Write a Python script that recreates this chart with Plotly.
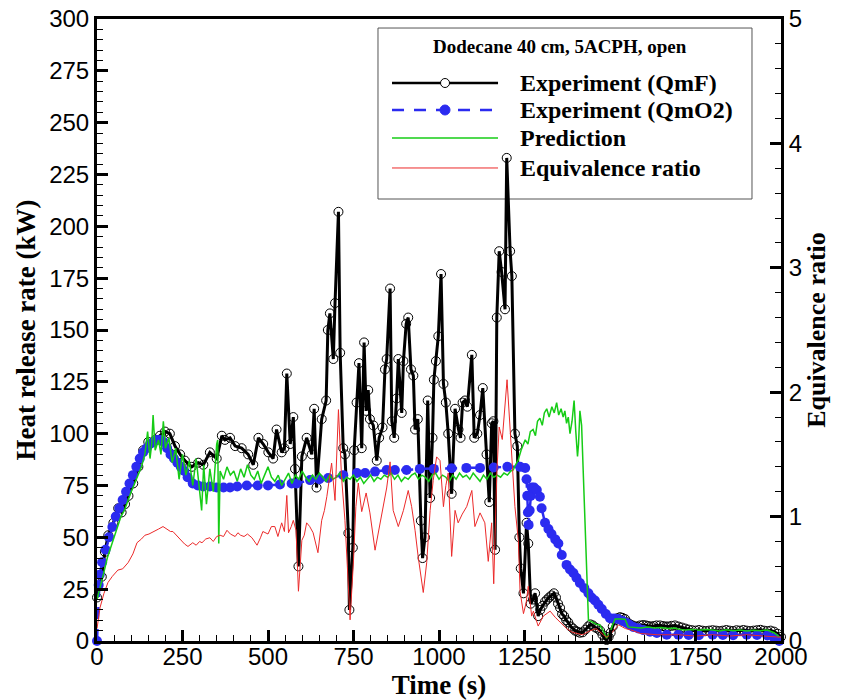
import plotly.graph_objects as go

# ---------------- data ----------------
qmf_points = [
    (0, 21), (14, 31), (23, 43), (33, 51), (48, 57), (62, 64), (72, 62), (82, 66), (92, 70),
    (106, 76), (121, 84), (135, 92), (150, 96), (170, 97), (184, 99), (199, 101), (213, 100),
    (228, 94), (243, 90), (257, 87), (277, 84), (296, 86), (311, 85), (330, 91), (350, 88),
    (365, 99), (374, 97), (389, 98), (404, 94), (423, 93), (442, 90), (457, 85), (472, 98),
    (486, 95), (501, 91), (515, 88), (525, 102), (540, 91), (548, 93), (555, 129), (565, 95),
    (574, 108), (579, 83), (589, 36), (599, 89), (613, 98), (628, 90), (635, 112), (642, 74),
    (657, 107), (670, 116), (675, 150), (681, 158), (691, 136), (696, 163), (706, 207),
    (711, 139), (720, 93), (725, 90), (735, 52), (738, 15), (748, 45), (752, 92), (759, 115),
    (766, 134), (774, 93), (781, 144), (787, 111), (793, 121), (798, 107), (808, 104),
    (818, 87), (825, 98), (835, 103), (842, 131), (847, 136), (857, 170), (862, 106),
    (869, 98), (876, 117), (881, 136), (891, 110), (896, 135), (904, 153), (910, 156),
    (918, 131), (925, 128), (930, 102), (938, 107), (947, 58), (952, 40), (959, 50),
    (967, 116), (974, 69), (981, 98), (985, 126), (991, 135), (998, 147), (1006, 177),
    (1013, 124), (1020, 115), (1027, 100), (1037, 71), (1047, 112), (1057, 102), (1063, 98),
    (1069, 115), (1076, 116), (1083, 113), (1096, 138), (1103, 98), (1112, 100), (1120, 109),
    (1128, 122), (1139, 90), (1147, 67), (1154, 105), (1159, 106), (1164, 44), (1169, 156),
    (1176, 188), (1183, 178), (1193, 160), (1198, 233), (1208, 188), (1213, 176), (1222, 100),
    (1229, 94), (1235, 50), (1239, 35), (1247, 23), (1256, 57), (1261, 47), (1268, 18),
    (1275, 20), (1281, 23), (1290, 12), (1296, 15), (1303, 17), (1310, 19), (1316, 20),
    (1322, 21), (1329, 22), (1336, 23), (1342, 21), (1348, 18), (1354, 16), (1360, 13),
    (1366, 12), (1372, 10), (1378, 9), (1385, 7), (1392, 6), (1398, 5), (1405, 4.5),
    (1412, 4), (1420, 4.2), (1428, 5.5), (1436, 7), (1443, 8), (1450, 7.5), (1457, 6.5),
    (1464, 6), (1471, 5), (1478, 3), (1485, 1), (1490, 0.5), (1496, 2), (1502, 4), (1508, 7),
    (1515, 10), (1522, 11), (1529, 11.5), (1536, 11.2), (1544, 10.6), (1551, 9), (1559, 8),
    (1566, 7.5), (1573, 7), (1580, 7), (1588, 7.5), (1597, 7.7), (1605, 7.5), (1612, 7.2),
    (1620, 7), (1628, 7.2), (1636, 7.5), (1646, 7.5), (1655, 7.2), (1663, 7), (1670, 7),
    (1680, 7.3), (1690, 7.5), (1700, 7), (1710, 6.5), (1720, 6), (1730, 5.5), (1740, 5.2),
    (1750, 5), (1760, 5.3), (1770, 5), (1780, 4.8), (1790, 5), (1800, 5.2), (1810, 5),
    (1820, 4.8), (1830, 5), (1840, 5.3), (1850, 5), (1860, 4.8), (1870, 5.2), (1880, 5),
    (1890, 5.3), (1900, 5), (1910, 4.8), (1920, 5), (1930, 5.2), (1940, 5.4), (1950, 5),
    (1960, 4.8), (1970, 5), (1980, 4.5), (1990, 3.5), (2000, 2),
]

qmo2_points = [
    (0, 0), (5, 27), (8, 32), (15, 38), (25, 44), (35, 50), (45, 55), (55, 60), (65, 64),
    (75, 68), (85, 72), (95, 76), (105, 80), (115, 84), (125, 88), (135, 91), (145, 93),
    (155, 95), (165, 96), (175, 97), (185, 97), (195, 96), (205, 93), (215, 90), (225, 88),
    (235, 86), (245, 84), (255, 82), (265, 79), (280, 76), (295, 75), (310, 74.5), (330, 74.5),
    (350, 74), (370, 74), (389, 74), (410, 74.5), (438, 75), (470, 75), (500, 75),
    (535, 75.5), (569, 76), (584, 76), (623, 77.6), (650, 78), (676, 78.6), (720, 80),
    (760, 81), (784, 81), (813, 81.7), (847, 82.5), (871, 82.5), (905, 82.5), (944, 83),
    (985, 83), (1037, 83.3), (1080, 83.5), (1120, 83.5), (1160, 83.7), (1200, 84),
    (1237, 84), (1252, 83.4), (1256, 78), (1258, 70), (1260, 62), (1262, 56), (1265, 63),
    (1268, 70), (1271, 74), (1278, 74), (1286, 72.8), (1295, 69.6), (1300, 64), (1310, 57),
    (1320, 54), (1329, 51.6), (1340, 49), (1349, 47), (1359, 41.5), (1373, 36.7),
    (1383, 34.5), (1393, 32.8), (1402, 30.5), (1412, 28), (1425, 25.5), (1437, 23),
    (1446, 21), (1456, 19.5), (1466, 17.5), (1476, 15.4), (1488, 13), (1500, 11),
    (1512, 10.8), (1524, 10.6), (1537, 9.6), (1549, 8.7), (1558, 7.7), (1568, 6.8),
    (1583, 6), (1597, 5.3), (1617, 4.5), (1637, 3.9), (1666, 3), (1700, 3), (1730, 2.9),
    (1760, 2.8), (1800, 3), (1830, 2.9), (1860, 2.8), (1900, 3), (1930, 2.9), (1960, 2.7),
    (1980, 1.5), (1995, 0),
]

prediction_points = [
    (0, 20), (10, 26), (20, 33), (30, 40), (40, 45), (50, 50), (60, 55), (70, 60), (80, 63),
    (90, 68), (100, 72), (110, 76), (120, 80), (130, 84), (140, 90), (148, 101), (155, 88),
    (160, 95), (164, 109), (170, 92), (180, 97), (187, 90), (194, 106), (200, 93), (210, 98),
    (220, 86), (230, 93), (240, 78), (250, 90), (260, 80), (270, 87), (280, 75), (290, 88),
    (300, 70), (306, 63), (312, 85), (320, 66), (330, 83), (340, 72), (350, 95), (353, 97),
    (356, 47), (360, 82), (370, 78), (380, 84), (390, 80), (400, 82), (410, 77), (420, 83),
    (430, 79), (440, 85), (450, 80), (460, 78), (470, 82), (480, 76), (490, 80), (500, 84),
    (510, 79), (520, 77), (530, 80), (540, 75), (550, 78), (560, 81), (570, 76), (580, 80),
    (590, 78), (600, 82), (610, 79), (620, 77), (630, 80), (640, 78), (650, 81), (660, 79),
    (670, 77), (680, 80), (690, 78), (700, 79), (710, 81), (720, 77), (730, 79), (740, 78),
    (750, 80), (760, 77), (770, 79), (780, 76), (790, 78), (800, 80), (810, 77), (820, 79),
    (830, 78), (840, 80), (850, 79), (860, 81), (870, 78), (880, 80), (890, 77), (900, 79),
    (910, 78), (920, 80), (930, 81), (940, 78), (950, 80), (960, 79), (970, 77), (980, 80),
    (990, 81), (1000, 78), (1010, 80), (1020, 79), (1030, 77), (1040, 80), (1050, 78),
    (1060, 81), (1070, 79), (1080, 80), (1090, 78), (1100, 81), (1110, 79), (1120, 77),
    (1130, 80), (1140, 78), (1150, 81), (1160, 79), (1170, 80), (1180, 79), (1190, 81),
    (1200, 80), (1210, 82), (1217, 82.5), (1224, 85), (1231, 87), (1240, 92), (1252, 97),
    (1260, 95), (1267, 101), (1275, 102), (1282, 99), (1288, 106), (1295, 107.5), (1302, 104),
    (1308, 110), (1315, 112), (1322, 108), (1330, 113), (1337, 110), (1344, 115), (1350, 109),
    (1357, 112), (1363, 108), (1368, 111), (1373, 105), (1378, 108), (1383, 100), (1389, 106),
    (1395, 116), (1400, 101), (1405, 89), (1408, 95), (1412, 111), (1417, 104), (1437, 10),
    (1450, 9), (1460, 8), (1470, 7.7), (1480, 5), (1490, 1.4), (1500, 4), (1508, 8),
    (1515, 10.6), (1530, 10.6), (1544, 10.5), (1553, 6.8), (1570, 6.5), (1590, 6.3),
    (1610, 6.8), (1630, 6.3), (1650, 6.5), (1670, 6), (1690, 6.3), (1705, 5.5), (1720, 5.3),
    (1740, 5.6), (1760, 5.2), (1780, 5.5), (1800, 5.3), (1820, 4.8), (1840, 5.4),
    (1860, 5), (1880, 5.3), (1900, 4.8), (1920, 5.2), (1940, 5), (1960, 5.3), (1980, 4),
    (1995, 2),
]

phi_points = [
    (0, 0.10), (9, 0.27), (20, 0.38), (32, 0.47), (45, 0.52), (61, 0.57), (75, 0.58),
    (91, 0.63), (105, 0.70), (117, 0.79), (130, 0.82), (140, 0.85), (152, 0.86), (164, 0.88),
    (180, 0.90), (193, 0.92), (205, 0.90), (215, 0.88), (222, 0.88), (235, 0.84), (249, 0.80),
    (256, 0.78), (266, 0.76), (280, 0.79), (290, 0.77), (300, 0.80), (307, 0.79), (318, 0.82),
    (330, 0.83), (340, 0.80), (350, 0.84), (360, 0.85), (370, 0.84), (380, 0.89), (390, 0.86),
    (404, 0.84), (412, 0.87), (420, 0.85), (430, 0.84), (440, 0.86), (453, 0.83), (460, 0.80),
    (468, 0.77), (478, 0.83), (485, 0.88), (500, 0.86), (510, 0.92), (520, 0.92), (529, 0.84),
    (540, 0.95), (548, 0.88), (555, 1.17), (560, 0.87), (568, 0.92), (574, 0.97), (582, 0.89),
    (589, 0.40), (599, 0.81), (606, 0.85), (613, 0.95), (622, 0.92), (632, 0.87), (646, 0.71),
    (657, 0.97), (665, 1.05), (672, 1.16), (686, 1.43), (696, 1.13), (706, 1.86), (715, 1.32),
    (725, 0.97), (732, 0.60), (740, 0.17), (750, 0.65), (757, 1.08), (764, 1.27), (774, 1.04),
    (787, 1.19), (798, 1.03), (813, 0.73), (827, 0.93), (847, 1.23), (857, 1.44), (866, 1.05),
    (881, 0.92), (896, 1.05), (910, 1.21), (920, 1.08), (930, 0.89), (939, 0.68), (954, 0.39),
    (964, 0.63), (974, 1.05), (983, 1.29), (993, 1.48), (1003, 1.45), (1013, 1.08),
    (1020, 1.25), (1027, 1.35), (1037, 0.68), (1047, 1.05), (1056, 0.95), (1068, 1.02),
    (1081, 1.08), (1096, 1.21), (1105, 0.92), (1120, 1.03), (1134, 0.95), (1144, 0.64),
    (1154, 0.95), (1160, 0.46), (1169, 1.35), (1176, 1.72), (1185, 1.62), (1199, 2.10),
    (1213, 1.48), (1222, 1.08), (1232, 0.81), (1237, 0.40), (1247, 0.22), (1255, 0.31),
    (1261, 0.44), (1271, 0.20), (1276, 0.24), (1290, 0.12), (1305, 0.20), (1325, 0.24),
    (1340, 0.19), (1354, 0.15), (1373, 0.10), (1390, 0.07), (1403, 0.06), (1420, 0.05),
    (1440, 0.08), (1460, 0.10), (1480, 0.05), (1490, 0.03), (1500, 0.05), (1515, 0.10),
    (1525, 0.13), (1545, 0.10), (1560, 0.09), (1590, 0.06), (1640, 0.05), (1700, 0.05),
    (1750, 0.04), (1800, 0.05), (1850, 0.04), (1900, 0.05), (1950, 0.04), (2000, 0.03),
]

legend_title = "Dodecane 40 cm, 5ACPH, open"
series_names = ["Experiment (QmF)", "Experiment (QmO2)", "Prediction", "Equivalence ratio"]
x_ticks = list(range(0, 2001, 250))
y_ticks = list(range(0, 301, 25))
y2_ticks = [0, 1, 2, 3, 4, 5]

# ---------------- styling ----------------
BLACK = "#000000"
BLUE = "#2b2bf0"
GREEN = "#16cc16"
RED = "#ec2a2a"
SERIF = "Liberation Serif, Times New Roman, serif"
SANS = "Liberation Sans, Arial, sans-serif"


def unzip(points):
    return [p[0] for p in points], [p[1] for p in points]


fig = go.Figure()

t, v = unzip(qmf_points)
fig.add_trace(go.Scatter(x=t, y=v, mode="lines+markers", name=series_names[0],
                         line=dict(color=BLACK, width=3),
                         marker=dict(symbol="circle-open", size=9, color=BLACK,
                                     line=dict(width=1, color=BLACK)),
                         cliponaxis=False, showlegend=False))
t, v = unzip(qmo2_points)
fig.add_trace(go.Scatter(x=t, y=v, mode="lines+markers", name=series_names[1],
                         line=dict(color=BLUE, width=2.5, dash="12px,10px"),
                         marker=dict(symbol="circle", size=10, color=BLUE),
                         cliponaxis=False, showlegend=False))
t, v = unzip(prediction_points)
fig.add_trace(go.Scatter(x=t, y=v, mode="lines", name=series_names[2],
                         line=dict(color=GREEN, width=1.5), showlegend=False))
t, v = unzip(phi_points)
fig.add_trace(go.Scatter(x=t, y=v, mode="lines", name=series_names[3], yaxis="y2",
                         line=dict(color=RED, width=1), showlegend=False))

# ---------------- manual legend box (paper coordinates) ----------------
shapes = [dict(type="rect", xref="paper", yref="paper", x0=0.4108, x1=0.9576,
               y0=0.7106, y1=0.9855, line=dict(color="#555555", width=1),
               fillcolor="white", layer="below")]
row_y = [0.8971, 0.8537, 0.8087, 0.7605]
line_styles = [dict(color=BLACK, width=2.5), dict(color=BLUE, width=2.5, dash="12px,10px"),
               dict(color=GREEN, width=1.5), dict(color=RED, width=1)]
for yy, ls in zip(row_y, line_styles):
    shapes.append(dict(type="line", xref="paper", yref="paper", x0=0.4313, x1=0.5863,
                       y0=yy, y1=yy, line=ls, layer="below"))
shapes.append(dict(type="circle", xref="paper", yref="paper", xsizemode="pixel",
                   ysizemode="pixel", xanchor=0.5088, yanchor=row_y[0],
                   x0=-4.5, x1=4.5, y0=-4.5, y1=4.5, fillcolor="white",
                   line=dict(color=BLACK, width=1), layer="below"))
shapes.append(dict(type="circle", xref="paper", yref="paper", xsizemode="pixel",
                   ysizemode="pixel", xanchor=0.5088, yanchor=row_y[1],
                   x0=-5, x1=5, y0=-5, y1=5, fillcolor=BLUE,
                   line=dict(color=BLUE, width=1), layer="below"))

annotations = [dict(text=legend_title, xref="paper", yref="paper", x=0.677, y=0.955,
                    showarrow=False, xanchor="center", yanchor="middle",
                    font=dict(family=SERIF, size=19, color=BLACK, weight="bold"))]
for yy, nm in zip(row_y, series_names):
    annotations.append(dict(text=nm, xref="paper", yref="paper", x=0.6155, y=yy,
                            showarrow=False, xanchor="left", yanchor="middle",
                            font=dict(family=SERIF, size=24, color=BLACK, weight="bold")))

tickfont = dict(family=SANS, size=24, color=BLACK)
titlefont = dict(family=SERIF, size=27, color=BLACK, weight="bold")

fig.update_layout(
    width=841, height=700,
    margin=dict(l=97, r=60, t=19, b=59, autoexpand=False),
    paper_bgcolor="white", plot_bgcolor="white",
    showlegend=False,
    shapes=shapes, annotations=annotations,
    xaxis=dict(range=[0, 2000], tickvals=x_ticks, ticks="inside", ticklen=11, tickwidth=3,
               tickcolor=BLACK, showline=True, linewidth=3, linecolor=BLACK, mirror=True,
               showgrid=False, zeroline=False, tickfont=tickfont, automargin=False,
               ticklabelstandoff=-8,
               minor=dict(ticks="inside", ticklen=6, tickwidth=1, tickcolor=BLACK, dtick=50,
                          showgrid=False),
               title=dict(text="Time (s)", font=titlefont, standoff=10)),
    yaxis=dict(range=[0, 300], tickvals=y_ticks, ticks="inside", ticklen=11, tickwidth=3,
               tickcolor=BLACK, showline=True, linewidth=3, linecolor=BLACK,
               showgrid=False, zeroline=False, tickfont=tickfont, automargin=False,
               minor=dict(ticks="inside", ticklen=6, tickwidth=1, tickcolor=BLACK, dtick=5,
                          showgrid=False),
               title=dict(text="Heat release rate (kW)", font=titlefont, standoff=6)),
    yaxis2=dict(range=[0, 5], tickvals=y2_ticks, overlaying="y", side="right",
                ticks="inside", ticklen=11, tickwidth=3, tickcolor=BLACK, automargin=False,
                showline=True, linewidth=3, linecolor=BLACK, showgrid=False,
                zeroline=False, tickfont=tickfont,
                minor=dict(ticks="inside", ticklen=6, tickwidth=1, tickcolor=BLACK,
                           dtick=0.2, showgrid=False),
                title=dict(text="Equivalence ratio", font=dict(family=SERIF, size=26,
                                                               color=BLACK, weight="bold"),
                           standoff=6)),
)

fig.write_html("out.html")
